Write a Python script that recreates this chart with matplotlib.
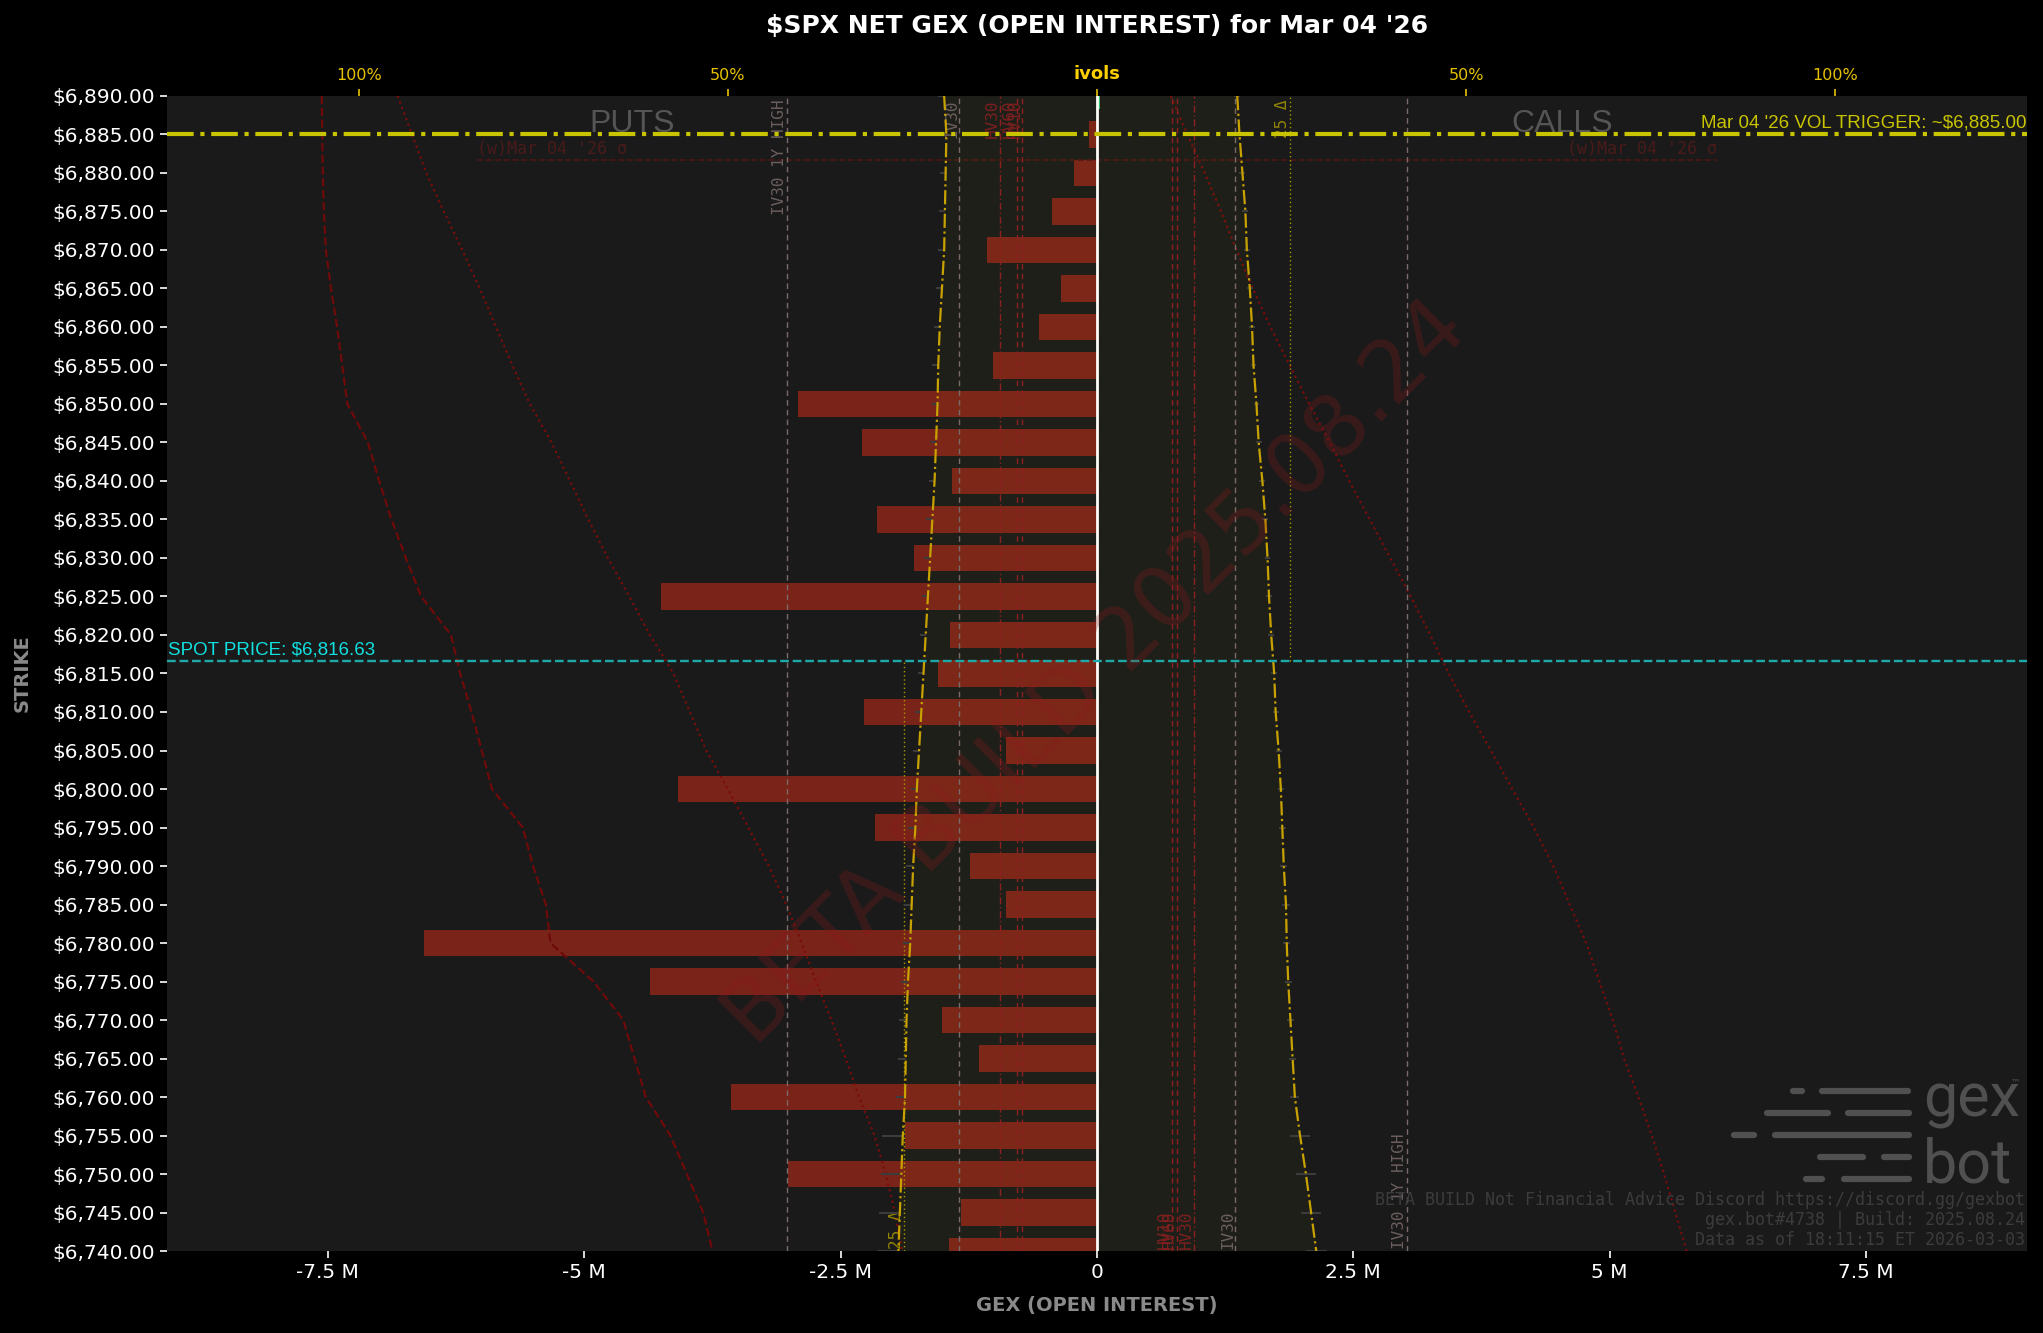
import matplotlib
matplotlib.use("Agg")
import matplotlib.pyplot as plt
import matplotlib.transforms as mtransforms
from matplotlib.ticker import MultipleLocator, FuncFormatter, FixedLocator
import numpy as np

# strikes, top to bottom
strikes = [6890, 6885, 6880, 6875, 6870, 6865, 6860, 6855, 6850, 6845,
           6840, 6835, 6830, 6825, 6820, 6815, 6810, 6805, 6800, 6795,
           6790, 6785, 6780, 6775, 6770, 6765, 6760, 6755, 6750, 6745, 6740]

# net gex per strike (millions)
net_gex = [0.03, -0.08, -0.22, -0.44, -1.07, -0.35, -0.57, -1.01, -2.92, -2.29,
           -1.41, -2.15, -1.78, -4.25, -1.43, -1.55, -2.27, -0.89, -4.09, -2.16,
           -1.24, -0.89, -6.56, -4.36, -1.51, -1.15, -3.57, -1.87, -3.01, -1.33, -1.44]

# implied vols per strike (%)
put_iv = [20.7, 20.4, 20.5, 20.6, 20.7, 21.0, 21.3, 21.5, 21.6, 21.8,
          22.0, 22.3, 22.6, 22.9, 23.2, 23.5, 23.8, 24.1, 24.4, 24.6,
          24.9, 25.1, 25.3, 25.6, 25.8, 25.9, 26.0, 26.3, 26.5, 26.7, 26.9]
call_iv = [19.0, 19.3, 19.7, 20.1, 20.3, 20.7, 21.0, 21.2, 21.6, 21.9,
           22.4, 22.8, 23.1, 23.3, 23.6, 24.0, 24.2, 24.6, 24.9, 25.1,
           25.3, 25.6, 25.7, 25.9, 26.2, 26.5, 26.8, 27.5, 28.3, 29.0, 29.7]
iv_spread = [0.8, 0.8, 0.8, 0.8, 0.8, 0.8, 0.8, 0.8, 0.8, 0.8,
             0.8, 0.8, 0.8, 0.8, 0.8, 0.8, 0.8, 0.8, 0.8, 1.0,
             1.0, 1.0, 1.0, 1.0, 1.0, 1.0, 1.2, 2.8, 2.8, 2.8, 2.9]

# red overlay curves (millions)
put_dash = [-7.56, -7.555, -7.55, -7.54, -7.52, -7.47, -7.41, -7.36, -7.31, -7.11,
            -7.0, -6.88, -6.74, -6.59, -6.30, -6.21, -6.10, -6.00, -5.90, -5.60,
            -5.50, -5.375, -5.33, -4.91, -4.62, -4.51, -4.40, -4.16, -4.00, -3.84, -3.75]
put_dotted = [-6.82, -6.68, -6.54, -6.37, -6.19, -6.02, -5.86, -5.70, -5.53, -5.32,
              -5.14, -4.96, -4.77, -4.56, -4.36, -4.13, -3.97, -3.81, -3.60, -3.40,
              -3.20, -3.03, -2.88, -2.74, -2.59, -2.45, -2.32, -2.17, -2.06, -1.97, -1.90]
call_dotted = [0.72, 0.88, 1.05, 1.21, 1.36, 1.52, 1.69, 1.88, 2.07, 2.27,
               2.46, 2.66, 2.86, 3.06, 3.25, 3.43, 3.63, 3.84, 4.05, 4.26,
               4.45, 4.61, 4.77, 4.90, 5.03, 5.14, 5.28, 5.41, 5.53, 5.64, 5.75]

# vol levels (%)
iv30_1y_high = 42.0
iv30 = 18.7
hv30 = 13.1
hv60 = 10.8
hv10 = 10.1
delta25 = 26.2

spot_price = 6816.63
vol_trigger = 6885.00
sigma_level = 6881.75
sigma_width = 6.05  # millions each side

x_max = 9.07         # millions
ivol_100 = 7.2       # millions per 100% on the ivols axis
y_lo, y_hi = 6740, 6890

strikes = np.array(strikes)
net_gex = np.array(net_gex)
put_iv = np.array(put_iv)
call_iv = np.array(call_iv)
iv_spread = np.array(iv_spread)

fig = plt.figure(figsize=(20.43, 13.33), dpi=100, facecolor="black")
ax = fig.add_axes([0.0817, 0.0615, 0.9105, 0.8665])
ax.set_facecolor("#1a1a1a")
for s in ax.spines.values():
    s.set_visible(False)

# bars
colors = np.where(net_gex >= 0, "#2fbf6a", "#7a2319")
ax.barh(strikes, net_gex, height=3.5, color=colors, zorder=2)

ax.axvline(0, color="white", lw=2, zorder=4)

# red overlay curves
ax.plot(put_dash, strikes, color="#6e0a0a", lw=1.6, ls="--", zorder=3)
ax.plot(put_dotted, strikes, color="#7a0c0c", lw=1.6, ls=":", zorder=3)
ax.plot(call_dotted, strikes, color="#7a0c0c", lw=1.6, ls=":", zorder=3)

# weekly sigma line
ax.hlines(sigma_level, -sigma_width, sigma_width, color="#4e1616", lw=1.2, ls="--", zorder=3)
ax.text(-sigma_width, sigma_level + 0.2, "(w)Mar 04 '26 σ", color="#4a1a1a",
        family="DejaVu Sans Mono", fontsize=12, ha="left", va="bottom", zorder=3)
ax.text(sigma_width, sigma_level + 0.2, "(w)Mar 04 '26 σ", color="#4a1a1a",
        family="DejaVu Sans Mono", fontsize=12, ha="right", va="bottom", zorder=3)

ax.set_xlim(-x_max, x_max)
ax.set_ylim(y_lo, y_hi)
ax.xaxis.set_major_locator(MultipleLocator(2.5))
ax.xaxis.set_major_formatter(FuncFormatter(lambda v, _: "0" if abs(v) < 1e-9 else f"{v:g} M"))
ax.yaxis.set_major_locator(MultipleLocator(5))
ax.yaxis.set_major_formatter(FuncFormatter(lambda v, _: "\\$" + f"{v:,.2f}"))
ax.tick_params(colors="white", labelsize=14.5, length=5, width=1.2)
ax.set_xlabel("GEX (OPEN INTEREST)", color="#8a8a8a", fontsize=14, fontweight="bold", labelpad=10)
ax.set_ylabel("STRIKE", color="#8a8a8a", fontsize=14, fontweight="bold")
ax.yaxis.set_label_coords(-0.0726, 0.5)

ax.text(-x_max / 2, vol_trigger + 0.3, "PUTS", color="#555555", family="Liberation Sans",
        fontsize=23, ha="center", va="baseline", zorder=3)
ax.text(x_max / 2, vol_trigger + 0.3, "CALLS", color="#555555", family="Liberation Sans",
        fontsize=23, ha="center", va="baseline", zorder=3)

# ivols axis
ax2 = ax.twiny()
for s in ax2.spines.values():
    s.set_visible(False)
ax2.set_xlim(-x_max / ivol_100 * 100, x_max / ivol_100 * 100)
ax2.set_ylim(y_lo, y_hi)
ax2.xaxis.set_major_locator(FixedLocator([-100, -50, 0, 50, 100]))
ax2.set_xticklabels(["100%", "50%", "ivols", "50%", "100%"])
ax2.tick_params(axis="x", colors="#e6c200", labelsize=11.5, length=5, width=1.2, pad=4)
for lab in ax2.get_xticklabels():
    if lab.get_text() == "ivols":
        lab.set_fontweight("bold")
        lab.set_fontsize(13)
        lab.set_color("#ffd000")

ax2.fill_betweenx(strikes, -put_iv, call_iv, color="#d4c000", alpha=0.03, lw=0, zorder=1)

# vertical vol levels: (x, label, colour, dash, label side, y-span)
trans = mtransforms.blended_transform_factory(ax2.transData, ax2.transAxes)
full = (y_lo, y_hi)
levels = [
    (-iv30_1y_high, "IV30 1Y HIGH", "#7a6a6a", (0, (4, 3)), "top", full),
    (-iv30, "IV30", "#7a6a6a", (0, (4, 3)), "top", full),
    (-hv30, "HV30", "#8c2020", (0, (5, 2, 1, 2)), "top", full),
    (-hv60, "HV60", "#8c2020", (0, (4, 3)), "top", full),
    (-hv10, "HV10", "#8c2020", (0, (4, 3)), "top", full),
    (-delta25, "25 Δ", "#a89800", (0, (1, 2)), "bottom", (y_lo, spot_price)),
    (iv30_1y_high, "IV30 1Y HIGH", "#7a6a6a", (0, (4, 3)), "bottom", full),
    (iv30, "IV30", "#7a6a6a", (0, (4, 3)), "bottom", full),
    (hv30, "HV30", "#8c2020", (0, (5, 2, 1, 2)), "bottom", full),
    (hv60, "HV60", "#8c2020", (0, (4, 3)), "bottom", full),
    (hv10, "HV10", "#8c2020", (0, (4, 3)), "bottom", full),
    (delta25, "25 Δ", "#a89800", (0, (1, 2)), "top", (spot_price, y_hi)),
]
for x, name, col, ls, where, span in levels:
    ax2.vlines(x, span[0], span[1], color=col, lw=1, linestyles=[ls], zorder=3)
    y = 0.997 if where == "top" else 0.002
    ax2.text(x, y, name, transform=trans, rotation=90, color=col, alpha=0.85,
             family="DejaVu Sans Mono", fontsize=11.5, ha="right",
             va="top" if where == "top" else "bottom", zorder=3)

# iv bid/ask marks
ax2.hlines(strikes, -put_iv - iv_spread, -put_iv, color="#3c3c3c", lw=1.5, zorder=3)
ax2.hlines(strikes, call_iv - iv_spread / 2, call_iv + iv_spread / 2, color="#3c3c3c", lw=1.5, zorder=3)

# iv curves
ax2.plot(-put_iv, strikes, color="#c8a200", lw=1.6, ls="-.", zorder=4)
ax2.plot(call_iv, strikes, color="#c8a200", lw=1.6, ls="-.", zorder=4)

# spot and vol trigger
ax2.axhline(spot_price, color="#1fa8a8", lw=1.7, ls="--", zorder=5)
ax2.text(0.0005, spot_price + 0.35, "SPOT PRICE: \\$6,816.63", transform=ax2.get_yaxis_transform(),
         color="#10e0e0", family="Liberation Sans", fontsize=13.5, ha="left", va="bottom", zorder=5)
ax2.axhline(vol_trigger, color="#c8c400", lw=3, ls="-.", zorder=5)
ax2.text(0.9995, vol_trigger + 0.35, "Mar 04 '26 VOL TRIGGER: ~\\$6,885.00", transform=ax2.get_yaxis_transform(),
         color="#c8c400", family="Liberation Sans", fontsize=13.5, ha="right", va="bottom", zorder=5)

# watermark
ax2.text(0.5, 0.5, "BETA BUILD 2025.08.24", transform=ax2.transAxes, rotation=45,
         color="#8b1a1a", alpha=0.28, fontsize=61, ha="center", va="center",
         rotation_mode="anchor", zorder=6)

# logo
logo_rows = [
    (0.1388, [(0.8742, 0.8790), (0.8898, 0.9360)]),
    (0.1197, [(0.8602, 0.8930), (0.9038, 0.9366)]),
    (0.1004, [(0.8425, 0.8532), (0.8643, 0.9366)]),
    (0.0814, [(0.8885, 0.9118), (0.9229, 0.9366)]),
    (0.0623, [(0.8812, 0.8898), (0.9016, 0.9366)]),
]
for yy, segs in logo_rows:
    for x0, x1 in segs:
        ax2.plot([x0, x1], [yy, yy], transform=ax2.transAxes, color="#505050",
                 lw=4.5, solid_capstyle="round", zorder=6)
ax2.text(0.944, 0.1165, "gex", transform=ax2.transAxes, color="#505050", family="Roboto",
         fontsize=44, ha="left", va="baseline", zorder=6)
ax2.text(0.944, 0.0589, "bot", transform=ax2.transAxes, color="#505050", family="Roboto",
         fontsize=44, ha="left", va="baseline", zorder=6)
ax2.text(0.9935, 0.146, "™", transform=ax2.transAxes, color="#505050", fontsize=7,
         ha="center", va="center", zorder=6)

foot = ["BETA BUILD Not Financial Advice Discord https://discord.gg/gexbot",
        "gex.bot#4738 | Build: 2025.08.24",
        "Data as of 18:11:15 ET 2026-03-03"]
for i, line in enumerate(foot):
    ax2.text(0.9989, 0.0398 - i * 0.0173, line, transform=ax2.transAxes, color="#3c3c3c",
             family="DejaVu Sans Mono", fontsize=12, ha="right", va="baseline", zorder=6)

fig.text(0.537, 0.9805, "\\$SPX NET GEX (OPEN INTEREST) for Mar 04 '26", color="white",
         fontsize=18, fontweight="bold", ha="center", va="center")

fig.savefig("out.png", dpi=100, facecolor="black")
